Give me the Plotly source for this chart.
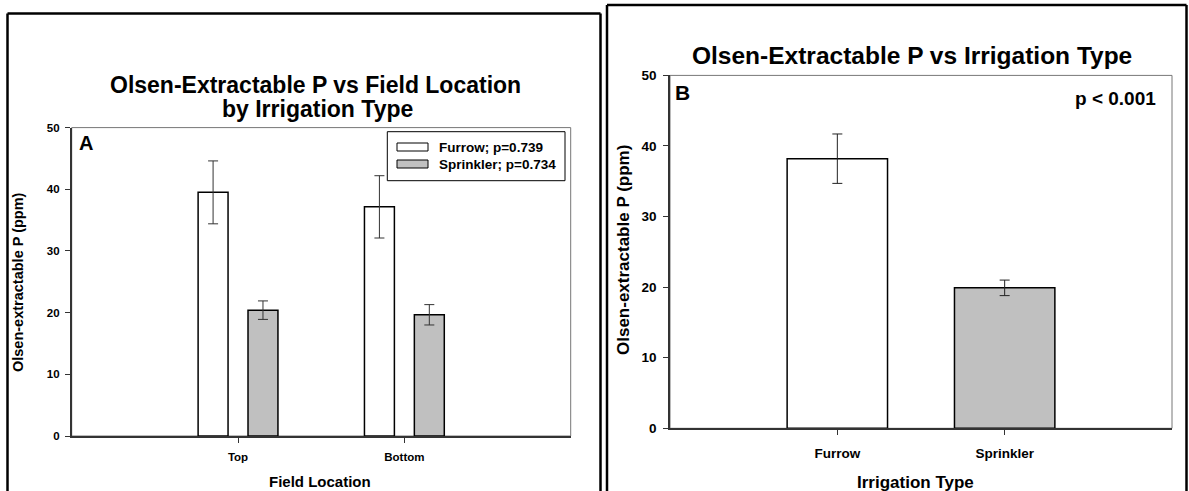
import plotly.graph_objects as go

# ---- data ----
locations = ["Top", "Bottom"]
furrow_loc = [39.5, 37.15]
furrow_loc_err = [5.1, 5.05]
sprinkler_loc = [20.4, 19.65]
sprinkler_loc_err = [1.5, 1.65]

irrigation_types = ["Furrow", "Sprinkler"]
irrigation_means = [38.2, 19.9]
irrigation_err = [3.5, 1.1]

y_ticks = [0, 10, 20, 30, 40, 50]

W, H = 1189, 491
FONT = "Liberation Sans"


def px(x):
    return x / W


def py(y):
    return 1 - y / H


fig = go.Figure()

# Panel A bars
fig.add_trace(go.Bar(
    x=locations, y=furrow_loc, name="Furrow; p=0.739",
    offset=-0.24, width=0.18,
    marker=dict(color="white", line=dict(color="black", width=1.5)),
    error_y=dict(type="data", array=furrow_loc_err, color="#333333", thickness=1, width=5),
    xaxis="x", yaxis="y", showlegend=False,
))
fig.add_trace(go.Bar(
    x=locations, y=sprinkler_loc, name="Sprinkler; p=0.734",
    offset=0.06, width=0.18,
    marker=dict(color="#c0c0c0", line=dict(color="black", width=1.5)),
    error_y=dict(type="data", array=sprinkler_loc_err, color="#333333", thickness=1, width=5),
    xaxis="x", yaxis="y", showlegend=False,
))

# Panel B bars
fig.add_trace(go.Bar(
    x=irrigation_types, y=irrigation_means, name="Irrigation Type",
    width=0.6,
    marker=dict(color=["white", "#c0c0c0"], line=dict(color="black", width=1.5)),
    error_y=dict(type="data", array=irrigation_err, color="#222222", thickness=1, width=5),
    xaxis="x2", yaxis="y2", showlegend=False,
))

tick_font_a = dict(family=FONT, size=11.5, color="black", weight="bold")
tick_font_b = dict(family=FONT, size=13.5, color="black", weight="bold")

axis_common = dict(showgrid=False, zeroline=False, ticks="outside", ticklen=5,
                   tickwidth=1, tickcolor="#333333", showline=True,
                   linecolor="#333333", fixedrange=True, automargin=False)

fig.update_layout(
    template="none",
    width=W, height=H, autosize=False,
    margin=dict(l=0, r=0, t=0, b=0, pad=0),
    paper_bgcolor="white", plot_bgcolor="white",
    barmode="overlay",
    xaxis=dict(domain=[px(71.7), px(570.7)], anchor="y", type="category",
               range=[-1, 2], tickfont=tick_font_a, ticklabelstandoff=4,
               linewidth=2, **axis_common),
    yaxis=dict(domain=[py(436), py(127.6)], anchor="x", range=[0, 50],
               tickvals=y_ticks, tickfont=tick_font_a, ticklabelstandoff=3,
               linewidth=1.5, **axis_common),
    xaxis2=dict(domain=[px(670), px(1172)], anchor="y2", type="category",
                range=[-1, 2], tickfont=tick_font_b, ticklabelstandoff=6,
                linewidth=2, **axis_common),
    yaxis2=dict(domain=[py(428.3), py(75.4)], anchor="x2", range=[0, 50],
                tickvals=y_ticks, tickfont=tick_font_b, ticklabelstandoff=4,
                linewidth=1.5, **axis_common),
)

shapes = []
# plot-area frames (top/right thin gray)
for xr, yr in (("x domain", "y domain"), ("x2 domain", "y2 domain")):
    shapes.append(dict(type="rect", xref=xr, yref=yr, x0=0, x1=1, y0=0, y1=1,
                       line=dict(color="#777777", width=1), layer="below"))


def pline(x0, y0, x1, y1, width=2.5, color="black"):
    return dict(type="line", xref="paper", yref="paper",
                x0=px(x0), y0=py(y0), x1=px(x1), y1=py(y1),
                line=dict(color=color, width=width))


# panel borders (open at the bottom, which is cut off in the picture)
shapes += [
    pline(7.5, 13.5, 600.5, 13.5), pline(7.5, 13.5, 7.5, 491), pline(600.5, 13.5, 600.5, 491),
    pline(607, 5, 1186.5, 5), pline(607, 5, 607, 491), pline(1186.5, 5, 1186.5, 491),
]
# legend box and swatches (panel A)
shapes.append(dict(type="rect", xref="paper", yref="paper",
                   x0=px(387.3), x1=px(565), y0=py(180.7), y1=py(131.7),
                   line=dict(color="black", width=1), fillcolor="white"))
shapes.append(dict(type="rect", xref="paper", yref="paper",
                   x0=px(397), x1=px(428), y0=py(151), y1=py(143),
                   line=dict(color="black", width=1), fillcolor="white"))
shapes.append(dict(type="rect", xref="paper", yref="paper",
                   x0=px(397), x1=px(428), y0=py(168), y1=py(160),
                   line=dict(color="black", width=1), fillcolor="#c0c0c0"))
fig.update_layout(shapes=shapes)


def ann(text, x, y, size, xanchor="center", yanchor="middle", angle=0, pad=1):
    return dict(text=text, x=px(x), y=py(y), xref="paper", yref="paper",
                xanchor=xanchor, yanchor=yanchor, showarrow=False,
                textangle=angle, borderpad=pad,
                font=dict(family=FONT, size=size, color="black", weight="bold"))


annotations = [
    ann("Olsen-Extractable P vs Field Location", 315, 84.5, 23, pad=0),
    ann("by Irrigation Type", 317, 109, 23, pad=0),
    ann("A", 85.5, 143, 20),
    ann("Furrow; p=0.739", 437, 147, 13.5, xanchor="left"),
    ann("Sprinkler; p=0.734", 437, 164, 13.5, xanchor="left"),
    ann("Field Location", 320, 481, 15),
    ann("Olsen-extractable P (ppm)", 18, 282, 14.5, angle=-90),
    ann("Olsen-Extractable P vs Irrigation Type", 911.5, 55.5, 24.5),
    ann("B", 682.5, 92.5, 21),
    ann("p < 0.001", 1158, 98.5, 19, xanchor="right"),
    ann("Irrigation Type", 915, 482.5, 17),
    ann("Olsen-extractable P (ppm)", 623, 250, 17, angle=-90),
]
fig.update_layout(annotations=annotations)

fig.write_html(
    "out.html",
    config={"displayModeBar": False},
    post_script="document.body.style.margin='0';document.body.style.overflow='hidden';",
)
